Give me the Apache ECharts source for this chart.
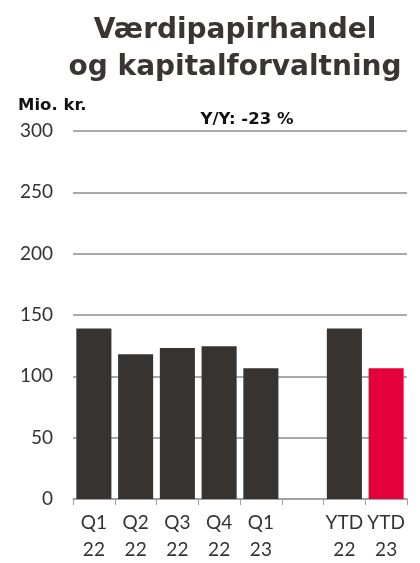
<!DOCTYPE html>
<html>
<head>
<meta charset="utf-8">
<script src="https://cdn.jsdelivr.net/npm/echarts@6/dist/echarts.min.js"></script>
<style>
html,body{margin:0;padding:0;background:#fff;}
#c{width:420px;height:563px;}
</style>
</head>
<body>
<div id="c"></div>
<script>
var categories = ['Q1\n22', 'Q2\n22', 'Q3\n22', 'Q4\n22', 'Q1\n23', '', 'YTD\n22', 'YTD\n23'];
var values = [139, 118, 123, 124.5, 106.5, null, 139, 106.5];
var barColors = ['#373330', '#373330', '#373330', '#373330', '#373330', '#373330', '#373330', '#e4003b'];
var yTicks = [0, 50, 100, 150, 200, 250, 300];
var titleText = 'Værdipapirhandel\nog kapitalforvaltning';
var unitText = 'Mio. kr.';
var yyText = 'Y/Y: -23 %';

var fontFam = 'Lato, "DejaVu Sans", sans-serif';
var boldFam = '"DejaVu Sans", sans-serif';

var chart = echarts.init(document.getElementById('c'), null, {renderer: 'canvas'});
chart.setOption({
  animation: false,
  backgroundColor: '#fff',
  title: [
    {text: titleText, left: 230, top: 7, textAlign: 'center',
     textStyle: {fontFamily: boldFam, fontWeight: 'bold', fontSize: 28, color: '#3a3532', lineHeight: 37}},
    {text: unitText, left: 13, top: 92,
     textStyle: {fontFamily: boldFam, fontWeight: 'bold', fontSize: 16.5, color: '#111'}},
    {text: yyText, left: 242, top: 106, textAlign: 'center',
     textStyle: {fontFamily: boldFam, fontWeight: 'bold', fontSize: 16.5, color: '#111'}}
  ],
  grid: {left: 73, right: 13, top: 131, bottom: 63, containLabel: false},
  xAxis: {
    type: 'category',
    data: categories,
    boundaryGap: true,
    axisLine: {show: true, lineStyle: {color: '#a0a0a0', width: 1.5}},
    axisTick: {show: true, length: 6, alignWithLabel: false, lineStyle: {color: '#a0a0a0'}},
    axisLabel: {color: '#333', fontFamily: fontFam, fontSize: 19, lineHeight: 27, margin: 10, interval: 0}
  },
  yAxis: {
    type: 'value',
    min: yTicks[0],
    max: yTicks[yTicks.length - 1],
    interval: 50,
    axisLine: {show: false},
    axisTick: {show: false},
    splitLine: {lineStyle: {color: '#8c8c8c', width: 1.5}},
    axisLabel: {color: '#333', fontFamily: fontFam, fontSize: 19, margin: 20}
  },
  series: [{
    type: 'bar',
    data: values.map(function (v, i) { return {value: v, itemStyle: {color: barColors[i]}}; }),
    barWidth: '84%',
    z: 3
  }]
});
</script>
</body>
</html>
